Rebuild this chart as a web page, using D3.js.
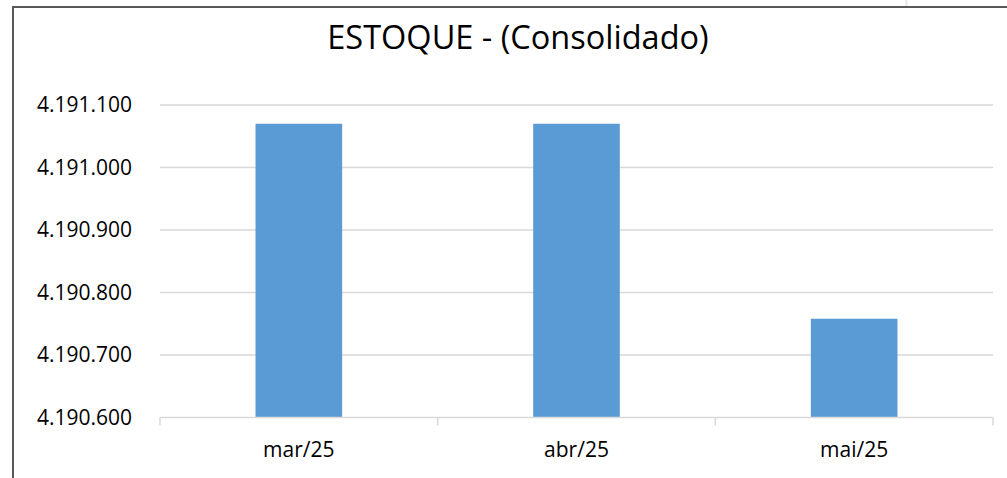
<!DOCTYPE html>
<html>
<head>
<meta charset="utf-8">
<script src="https://cdn.jsdelivr.net/npm/d3@7"></script>
<style>
  body { margin: 0; background: #fff; }
  text { font-family: "Open Sans", sans-serif; fill: #000; }
</style>
</head>
<body>
<svg id="chart" width="1007" height="478"></svg>
<script>
// data
const categories = ["mar/25", "abr/25", "mai/25"]
const values = [4191070, 4191070, 4190758]
const yTicks = [4190600, 4190700, 4190800, 4190900, 4191000, 4191100]
const title = "ESTOQUE - (Consolidado)"

const svg = d3.select("#chart")

// faint sheet gridline above the chart box
svg.append("line")
    .attr("x1", 906.5).attr("x2", 906.5)
    .attr("y1", 0).attr("y2", 6)
    .attr("stroke", "#e6e6e6").attr("stroke-width", 2)

// chart box, runs off the right and bottom of the window
svg.append("rect")
    .attr("x", 13).attr("y", 7)
    .attr("width", 1100).attr("height", 600)
    .attr("fill", "#fff")
    .attr("stroke", "#595959")
    .attr("stroke-width", 2)

const plotLeft = 160, plotRight = 993, plotTop = 105, plotBottom = 417.5

const x = d3.scaleBand()
    .domain(categories)
    .range([plotLeft, plotRight])
    .paddingInner(0.688)
    .paddingOuter(0.344)

const y = d3.scaleLinear()
    .domain([4190600, 4191100])
    .range([plotBottom, plotTop])

const fmt = d3.formatLocale({ decimal: ",", thousands: ".", grouping: [3], currency: ["R$", ""] }).format(",d")

// gridlines
svg.append("g")
    .selectAll("line")
    .data(yTicks.slice(1))
    .join("line")
    .attr("x1", plotLeft).attr("x2", plotRight)
    .attr("y1", d => y(d)).attr("y2", d => y(d))
    .attr("stroke", "#d9d9d9")
    .attr("stroke-width", 1.5)

// bars
svg.append("g")
    .selectAll("rect")
    .data(values)
    .join("rect")
    .attr("x", (d, i) => x(categories[i]))
    .attr("y", d => y(d))
    .attr("width", x.bandwidth())
    .attr("height", d => plotBottom - y(d))
    .attr("fill", "#5b9bd5")

// y axis labels
const yAxis = d3.axisLeft(y).tickValues(yTicks).tickFormat(fmt).tickSize(0).tickPadding(28)
const gy = svg.append("g").attr("transform", `translate(${plotLeft},0)`).call(yAxis)
gy.select(".domain").remove()
gy.selectAll("text").style("font-size", "21px").attr("fill", "#000")

// x axis with ticks between categories
const gx = svg.append("g").attr("transform", `translate(0,${plotBottom})`)
gx.append("line")
    .attr("x1", plotLeft).attr("x2", plotRight)
    .attr("stroke", "#d9d9d9").attr("stroke-width", 1.5)
const step = x.step()
gx.selectAll("line.tick")
    .data(d3.range(categories.length + 1))
    .join("line")
    .attr("class", "tick")
    .attr("x1", i => plotLeft + i * step).attr("x2", i => plotLeft + i * step)
    .attr("y1", 0).attr("y2", 8)
    .attr("stroke", "#d9d9d9").attr("stroke-width", 1.5)
gx.selectAll("text")
    .data(categories)
    .join("text")
    .attr("x", d => x(d) + x.bandwidth() / 2)
    .attr("y", 39.5)
    .attr("text-anchor", "middle")
    .style("font-size", "21px")
    .text(d => d)

// title
svg.append("text")
    .attr("x", 518)
    .attr("y", 49)
    .attr("text-anchor", "middle")
    .style("font-size", "32.5px")
    .text(title)
</script>
</body>
</html>
